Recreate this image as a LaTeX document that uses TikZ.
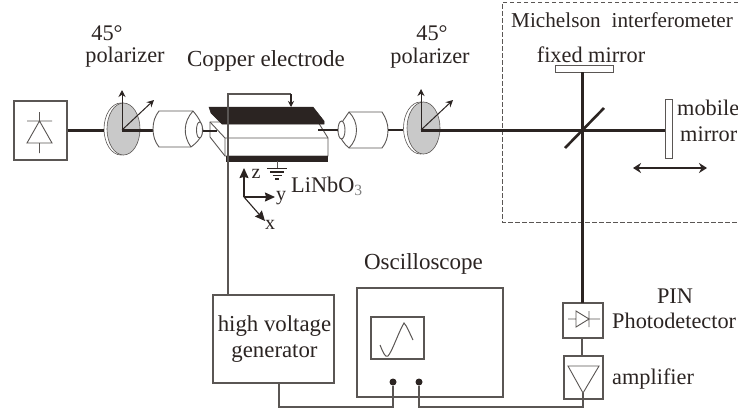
\documentclass[tikz,border=0pt]{standalone}
\usepackage{fontspec}
\setmainfont{Liberation Serif}
\usetikzlibrary{arrows.meta,shapes.geometric,calc}
\definecolor{ink}{HTML}{2B2422}
\definecolor{wire}{HTML}{5A5654}
\definecolor{disc}{HTML}{C9C9C9}
\tikzset{
  lab/.style={font=\fontsize{22.3}{25}\selectfont,text=ink,inner sep=0pt,align=center},
  boxn/.style={draw=wire,line width=1.4pt,fill=white,inner sep=0pt,minimum width=#1},
  boxn/.default=10pt,
  beam/.style={draw=ink,line width=3pt},
  thinw/.style={draw=wire,line width=1.4pt},
  lens/.style={draw=wire,line width=0.9pt,fill=white},
  pol/.style={draw=wire,line width=0.6pt,fill=disc,ellipse,inner sep=0pt,minimum width=33pt,minimum height=52pt},
  polback/.style={draw=wire,line width=0.6pt,fill=white,ellipse,inner sep=0pt,minimum width=34pt,minimum height=52pt},
  parrow/.style={draw=ink,line width=1pt,-{Stealth[length=7pt,width=7pt]}},
  axis/.style={draw=wire,line width=1.1pt,-{Stealth[length=10pt,width=9pt,inset=1pt]},color=ink},
  plate/.style={fill=ink,draw=ink,line width=0.5pt},
  dot/.style={circle,fill=ink,inner sep=0pt,minimum size=7pt},
}
\begin{document}
\begin{tikzpicture}[x=1pt,y=-1pt]
\useasboundingbox (0,0) rectangle (738,408);
\fill[white] (0,0) rectangle (738,408);

% Michelson frame
\draw[draw=wire,line width=0.9pt,dash pattern=on 4.5pt off 2.5pt] (738,2) -- (502,2) -- (502,222) -- (738,222);

% source box
\node[boxn=53pt,minimum height=59pt] (src) at (40.5,130.5) {};
\draw[draw=wire,line width=0.9pt] (39.5,112) -- (39.5,121) (27,121) -- (52,121)
  (39.5,121) -- (27,143) -- (52,143) -- cycle (39.5,143) -- (39.5,153);

% polarizer 1
\node[polback] (p1b) at (121,129) {};
\node[pol] (p1) at (123.5,129) {};
\coordinate (c1) at (122,130);
\coordinate (c1up) at (122,90);
\coordinate (c1di) at (154,100);
\draw[beam] (src.east |- c1) -- (p1b.west |- c1);
\draw[parrow] (c1) -- (c1up);
\draw[parrow] (c1) -- (c1di);

% objective 1
\coordinate (o1) at (153,130);
\draw[beam] (c1) -- (o1);
\draw[lens] (159,111) -- (193,111) .. controls (199,118) and (202,124) .. (203,130)
  .. controls (202,136) and (199,141) .. (191,147) -- (159,147) .. controls (155,142) and (153,136) .. (153,129)
  .. controls (153,122) and (155,116) .. (159,111) -- cycle;
\draw[draw=wire,line width=0.9pt] (193,111) .. controls (183,122) and (183,136) .. (191,147);
\draw[lens] (199.5,130) ellipse (3pt and 8pt);
\coordinate (o1e) at (203,131);

% objective 2
\draw[lens] (357,112) -- (382,112) .. controls (386,118) and (388,124) .. (388,130)
  .. controls (388,137) and (386,143) .. (382,148) -- (349,148) .. controls (344,144) and (340,138) .. (338,131)
  .. controls (340,124) and (345,118) .. (349,112) -- cycle;
\draw[draw=wire,line width=0.9pt] (349,112) .. controls (359,122) and (359,138) .. (349,148);
\draw[lens] (341.5,130) ellipse (3.5pt and 9pt);
\coordinate (o2w) at (338,130);
\coordinate (o2e) at (388,130);

% crystal
\coordinate (k1) at (225,138);
\draw[lens] (210,122) -- (318,122) -- (328,138) -- (328,156) -- (225,156) -- (210,137) -- cycle;
\draw[draw=wire,line width=0.9pt] (210,122) -- (225,138) -- (328,138) (225,138) -- (225,156);
\coordinate (cry) at (318,130);
\draw[draw=ink,line width=2.4pt] (o1e) -- (217,131);
\draw[draw=ink,line width=2.4pt] (cry) -- (o2w);

% electrodes
\path[plate] (209,107) -- (313,107) -- (324,121) -- (324,124) -- (222,124) -- (211,113) -- cycle;
\node[plate,inner sep=0pt,minimum width=101pt,minimum height=5pt] (bot) at (276.5,158.5) {};

% drive wire
\node[boxn=121pt,minimum height=88pt] (hv) at (273.5,339) {};
\node[lab,font=\fontsize{22.8}{25}\selectfont] (hvt) at (274.5,339) {high voltage\\[1pt]generator};
\coordinate (top) at (291,107);
\coordinate (wtl) at (228,94);
\coordinate (wb) at (228,295);
\draw[thinw] (wb) -- (wtl) -- (wtl -| top);
\draw[draw=wire,line width=1.4pt,-{Stealth[length=6pt,width=6pt]},color=ink] (wtl -| top) -- (top);

% ground
\coordinate (gnd) at (277,168);
\draw[thinw,line width=0.8pt] (bot.south -| gnd) -- (gnd);
\draw[draw=ink,line width=1.3pt] (267,168.5) -- (287,168.5) (270,172) -- (284,172) (272.5,175.5) -- (281.5,175.5) (275,179) -- (279,179);

% axes
\coordinate (ax) at (244,197);
\coordinate (axz) at (244,168);
\coordinate (axy) at (275,197);
\coordinate (axx) at (265,221);
\draw[axis] (ax) -- (axz);
\draw[axis] (ax) -- (axy);
\draw[axis] (ax) -- (axx);
\node[lab,font=\fontsize{20}{22}\selectfont] (lz) at (256,174) {z};
\node[lab,font=\fontsize{20}{22}\selectfont] (ly) at (281,198) {y};
\node[lab,font=\fontsize{20}{22}\selectfont] (lx) at (270,225) {x};
\node[lab,anchor=west] (lnb) at (291,186) {LiNbO\textsubscript{\textcolor{gray}{3}}};

% polarizer 2
\node[polback] (p2b) at (420.5,128) {};
\node[pol] (p2) at (423.5,128) {};
\coordinate (c2) at (421,130);
\draw[beam,line width=2.4pt] (o2e) -- (p2b.west |- o2e);
\draw[draw=wire,line width=1pt,-{Stealth[length=7pt,width=7pt]},color=ink] (c2) -- (421,89);
\draw[parrow] (c2) -- (453,100);

% interferometer
\node[boxn=7pt,minimum height=59pt,line width=1pt] (mm) at (668.5,128.5) {};
\node[boxn=58pt,minimum height=7pt,line width=0.9pt] (fm) at (584,68.5) {};
\coordinate (bs) at (582,130);
\draw[beam] (c2) -- (bs);
\draw[beam] (bs) -- (mm.west |- bs);
\draw[draw=ink,line width=2.6pt] (565,148) -- (604,108);
\node[boxn=40pt,minimum height=35pt] (pd) at (583,320.5) {};
\node[boxn=39pt,minimum height=43pt] (amp) at (583.5,377.5) {};
\coordinate (fmb) at (582,72);
\coordinate (pdt) at (582,303);
\draw[beam] (fmb) -- (pdt);
\draw[draw=ink,line width=2pt,{Stealth[length=8pt,width=10pt]}-{Stealth[length=8pt,width=10pt]}] (633,168) -- (707,168);

% detector glyphs
\draw[draw=wire,line width=0.9pt] (568,319) -- (576,319) (576,311) -- (589,319) -- (576,327) -- cycle (589,311) -- (589,327) (589,319) -- (600,319);
\draw[draw=wire,line width=0.9pt] (568,366) -- (599,366) -- (583,393) -- cycle;
\draw[thinw] (pd.south -| pdt) -- (pdt |- amp.north);

% oscilloscope
\node[boxn=146pt,minimum height=109pt] (osc) at (430,342.5) {};
\node[boxn=53pt,minimum height=42pt] (scr) at (397.5,338) {};
\draw[draw=wire,line width=1pt] (380,345) .. controls (383,352) and (385,358) .. (388,356) .. controls (392,352) and (399,331) .. (404,323) .. controls (407,326) and (410,334) .. (413,340);
\node[dot] (d1) at (393,382) {};
\node[dot] (d2) at (419,382) {};
\coordinate (hvo) at (279,383);
\coordinate (bus) at (0,407);
\coordinate (ampo) at (583,393);
\draw[thinw] (hvo) -- (hvo |- bus) -- (d1 |- bus) -- (d1);
\draw[thinw] (d2) -- (d2 |- bus) -- (ampo |- bus) -- (ampo);

% labels
\node[lab] (t45a) at (107,33) {45°};
\node[lab] (tpa) at (125,57) {polarizer};
\node[lab,font=\fontsize{23}{25}\selectfont] (tce) at (266,61) {Copper electrode};
\node[lab] (t45b) at (432,33) {45°};
\node[lab] (tpb) at (430,58) {polarizer};
\node[lab,anchor=west,font=\fontsize{21.2}{24}\selectfont] (tmi) at (511,20) {Michelson\hspace{11pt}interferometer};
\node[lab] (tfm) at (591,55) {fixed mirror};
\node[lab,anchor=west] (tmo) at (677,108) {mobile};
\node[lab,anchor=west] (tmr) at (680,134) {mirror};
\node[lab,font=\fontsize{23}{25}\selectfont] (tos) at (423.5,264) {Oscilloscope};
\node[lab] (tpi) at (675,296) {PIN};
\node[lab,anchor=west] (tph) at (612,321) {Photodetector};
\node[lab,anchor=west] (tam) at (612,379) {amplifier};
\end{tikzpicture}
\end{document}
